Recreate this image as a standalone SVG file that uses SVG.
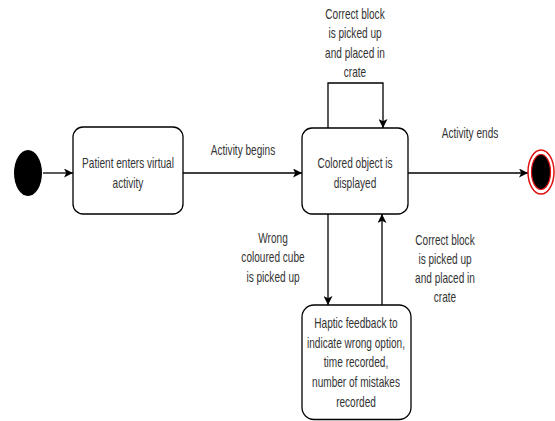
<svg xmlns="http://www.w3.org/2000/svg" width="555" height="421" viewBox="0 0 555 421">
<defs>
<marker id="arr" viewBox="0 0 10 10" refX="10" refY="5" markerWidth="9" markerHeight="9" markerUnits="userSpaceOnUse" orient="auto">
<path d="M0,0 L10,5 L0,10 L2.5,5 Z" fill="#000"/>
</marker>
<style>
.box{fill:#fff;stroke:#000;stroke-width:1.3}
.ln{fill:none;stroke:#000;stroke-width:1.3}
text{font-family:"Liberation Sans",Arial,sans-serif;font-size:14px;fill:#333;text-anchor:middle}
</style>
</defs>
<rect width="555" height="421" fill="#fff"/>
<g id="connectors">
<line class="ln" x1="43" y1="173" x2="73" y2="173" marker-end="url(#arr)"/>
<line class="ln" x1="183" y1="173" x2="302" y2="173" marker-end="url(#arr)"/>
<polyline class="ln" points="328,128 328,83 383,83 383,128" marker-end="url(#arr)"/>
<line class="ln" x1="408" y1="173" x2="528" y2="173" marker-end="url(#arr)"/>
<line class="ln" x1="328" y1="214" x2="328" y2="305" marker-end="url(#arr)"/>
<line class="ln" x1="382" y1="305" x2="382" y2="214" marker-end="url(#arr)"/>
<g transform="translate(243,0) scale(0.72,1)"><text x="0" y="155">Activity begins</text></g>
<g transform="translate(470,0) scale(0.72,1)"><text x="0" y="138">Activity ends</text></g>
<g transform="translate(355,0) scale(0.72,1)"><text x="0" y="19">Correct block<tspan x="0" dy="19.3">is picked up</tspan><tspan x="0" dy="19.3">and placed in</tspan><tspan x="0" dy="19.3">crate</tspan></text></g>
<g transform="translate(273,0) scale(0.72,1)"><text x="0" y="243">Wrong<tspan x="0" dy="19.5">coloured cube</tspan><tspan x="0" dy="19.5">is picked up</tspan></text></g>
<g transform="translate(445,0) scale(0.72,1)"><text x="0" y="245">Correct block<tspan x="0" dy="19">is picked up</tspan><tspan x="0" dy="19">and placed in</tspan><tspan x="0" dy="19">crate</tspan></text></g>
</g>
<g id="start">
<ellipse cx="28" cy="173" rx="14" ry="23" fill="#000"/>
</g>
<g id="enter">
<rect class="box" x="73" y="127" width="110" height="87" rx="10"/>
<g transform="translate(128,0) scale(0.72,1)"><text x="0" y="168">Patient enters virtual<tspan x="0" dy="20">activity</tspan></text></g>
</g>
<g id="display">
<rect class="box" x="302" y="128" width="106" height="86" rx="10"/>
<g transform="translate(355,0) scale(0.72,1)"><text x="0" y="168">Colored object is<tspan x="0" dy="20">displayed</tspan></text></g>
</g>
<g id="haptic">
<rect class="box" x="302" y="305" width="109" height="114.5" rx="12"/>
<g transform="translate(356,0) scale(0.72,1)"><text x="0" y="328">Haptic feedback to<tspan x="0" dy="19.7">indicate wrong option,</tspan><tspan x="0" dy="19.7">time recorded,</tspan><tspan x="0" dy="19.7">number of mistakes</tspan><tspan x="0" dy="19.7">recorded</tspan></text></g>
</g>
<g id="end">
<ellipse cx="541" cy="172" rx="13" ry="22" fill="#fff" stroke="#e01010" stroke-width="1.5"/>
<ellipse cx="541" cy="172" rx="9.5" ry="17.5" fill="#000" stroke="#e01010" stroke-width="1.2"/>
</g>
</svg>
